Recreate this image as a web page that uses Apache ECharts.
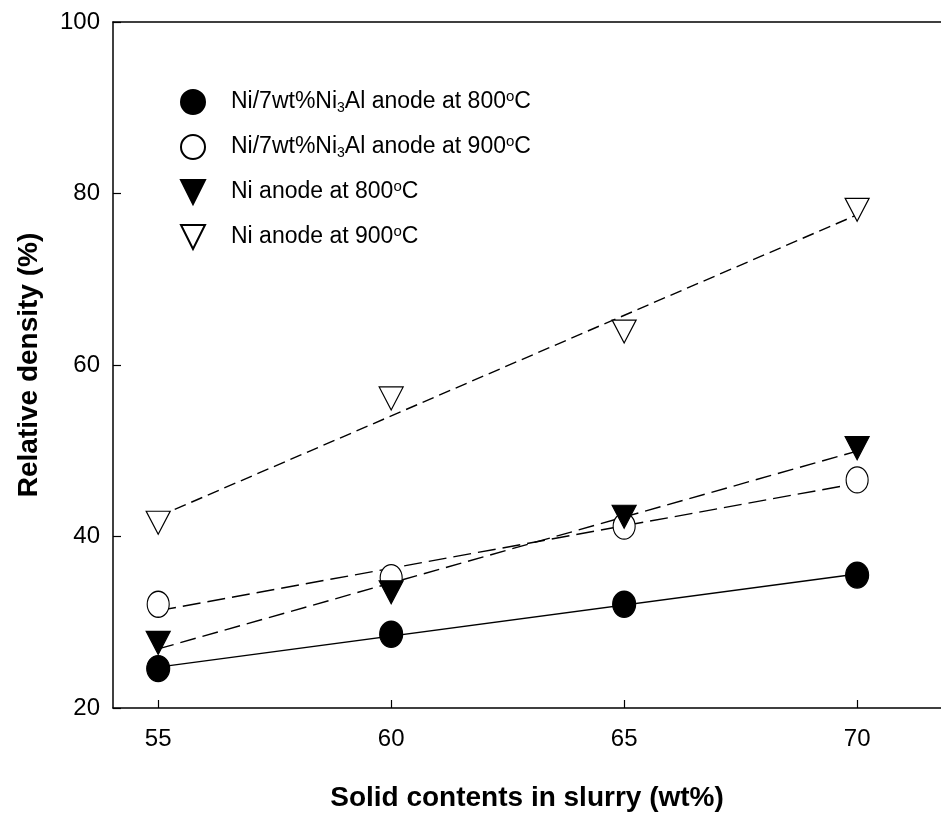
<!DOCTYPE html>
<html>
<head>
<meta charset="utf-8">
<script src="https://cdn.jsdelivr.net/npm/echarts@6/dist/echarts.min.js"></script>
<style>
html,body{margin:0;padding:0;background:#fff;}
#main{width:941px;height:813px;}
</style>
</head>
<body>
<div id="main"></div>
<script>
// solid content (wt%)
var solidContents = [55, 60, 65, 70];
// relative density (%)
var alloy800 = [24.6, 28.6, 32.1, 35.5];
var alloy900 = [32.1, 35.2, 41.2, 46.6];
var ni800 = [27.6, 33.5, 42.3, 50.3];
var ni900 = [41.6, 56.1, 63.9, 78.1];
var xTicks = [55, 60, 65, 70];
var yTicks = [20, 40, 60, 80, 100];
var seriesNames = ['alloy800', 'alloy900', 'ni800', 'ni900'];

var FONT = 'Liberation Sans, Arial, sans-serif';
var triDown = 'path://M0,0 L20,0 L10,20 Z';

function pairs(ys){
	return solidContents.map(function(x, i){ return [x, ys[i]]; });
}

// least squares line, drawn between first and last x
function fitLine(ys){
	var n = solidContents.length, mx = 0, my = 0, sxy = 0, sxx = 0;
	for (var i = 0; i < n; i++){ mx += solidContents[i]; my += ys[i]; }
	mx /= n; my /= n;
	for (var j = 0; j < n; j++){
		sxy += (solidContents[j] - mx) * (ys[j] - my);
		sxx += (solidContents[j] - mx) * (solidContents[j] - mx);
	}
	var b = sxy / sxx, a = my - b * mx;
	var x0 = solidContents[0], x1 = solidContents[n - 1];
	return [[x0, a + b * x0], [x1, a + b * x1]];
}

var legendText = {
	alloy800: '{n|Ni/7wt%Ni}{sub|3}{n|Al anode at 800}{sup|o}{n|C}',
	alloy900: '{n|Ni/7wt%Ni}{sub|3}{n|Al anode at 900}{sup|o}{n|C}',
	ni800: '{n|Ni anode at 800}{sup|o}{n|C}',
	ni900: '{n|Ni anode at 900}{sup|o}{n|C}'
};

function fitSeries(ys, dash){
	return {
		type: 'line',
		data: fitLine(ys),
		symbol: 'none',
		silent: true,
		z: 1,
		lineStyle: {color: '#000', width: 1.4, type: dash}
	};
}

function pointSeries(name, ys, symbol, size, fill){
	return {
		name: name,
		type: 'scatter',
		data: pairs(ys),
		symbol: symbol,
		symbolSize: size,
		z: 3,
		itemStyle: {color: fill, borderColor: '#000', borderWidth: 1.2, opacity: 1}
	};
}

var dom = document.getElementById('main');
var myChart = echarts.init(dom, null, {renderer: 'canvas'});
var option = {
	backgroundColor: '#fff',
	animation: false,
	grid: {left: 113, right: 0, top: 22, bottom: 105, containLabel: false, outerBoundsMode: 'none'},
	legend: {
		orient: 'vertical',
		left: 175,
		top: 84,
		itemWidth: 24,
		itemHeight: 26,
		itemGap: 18,
		data: [
			{name: 'alloy800', icon: 'circle'},
			{name: 'alloy900', icon: 'circle'},
			{name: 'ni800', icon: triDown},
			{name: 'ni900', icon: triDown}
		],
		formatter: function(name){ return legendText[name]; },
		textStyle: {
			fontFamily: FONT,
			padding: [0, 0, 0, 21],
			rich: {
				n: {fontFamily: FONT, fontSize: 23, color: '#000', lineHeight: 26},
				sub: {fontFamily: FONT, fontSize: 14, color: '#000', verticalAlign: 'bottom', lineHeight: 14, padding: [12, 0, 0, 0]},
				sup: {fontFamily: FONT, fontSize: 15, color: '#000', verticalAlign: 'top', lineHeight: 14, padding: [0, 0, 12, 0]}
			}
		}
	},
	xAxis: [{
		type: 'value',
		min: 54.03,
		max: 71.8,
		name: 'Solid contents in slurry (wt%)',
		nameLocation: 'middle',
		nameGap: 76,
		nameTextStyle: {fontFamily: FONT, fontSize: 28, fontWeight: 'bold', color: '#000'},
		axisLine: {show: true, lineStyle: {color: '#000', width: 1.5}},
		axisTick: {show: true, inside: true, length: 8, customValues: xTicks, lineStyle: {color: '#000', width: 1.2}},
		axisLabel: {customValues: xTicks, margin: 19, fontFamily: FONT, fontSize: 24, color: '#000'},
		splitLine: {show: false}
	}, {
		type: 'value',
		position: 'top',
		min: 54.03,
		max: 71.8,
		axisLine: {show: true, onZero: false, lineStyle: {color: '#000', width: 1.5}},
		axisTick: {show: false},
		axisLabel: {show: false},
		splitLine: {show: false}
	}],
	yAxis: {
		type: 'value',
		min: 20,
		max: 100,
		interval: 20,
		name: 'Relative density (%)',
		nameLocation: 'middle',
		nameGap: 70,
		nameTextStyle: {fontFamily: FONT, fontSize: 28, fontWeight: 'bold', color: '#000'},
		axisLine: {show: true, lineStyle: {color: '#000', width: 1.5}},
		axisTick: {show: true, inside: true, length: 8, lineStyle: {color: '#000', width: 1.2}},
		axisLabel: {margin: 13, fontFamily: FONT, fontSize: 24, color: '#000'},
		splitLine: {show: false}
	},
	series: [
		fitSeries(alloy800, 'solid'),
		fitSeries(alloy900, [18, 7]),
		fitSeries(ni800, [16, 7]),
		fitSeries(ni900, [12, 6]),
		pointSeries('alloy800', alloy800, 'circle', [23, 26], '#000'),
		pointSeries('alloy900', alloy900, 'circle', [22, 26], '#fff'),
		pointSeries('ni800', ni800, triDown, [24, 23], '#000'),
		pointSeries('ni900', ni900, triDown, [24, 23], '#fff')
	]
};
if (option && typeof option === 'object') {
	myChart.setOption(option, true);
}
</script>
</body>
</html>
